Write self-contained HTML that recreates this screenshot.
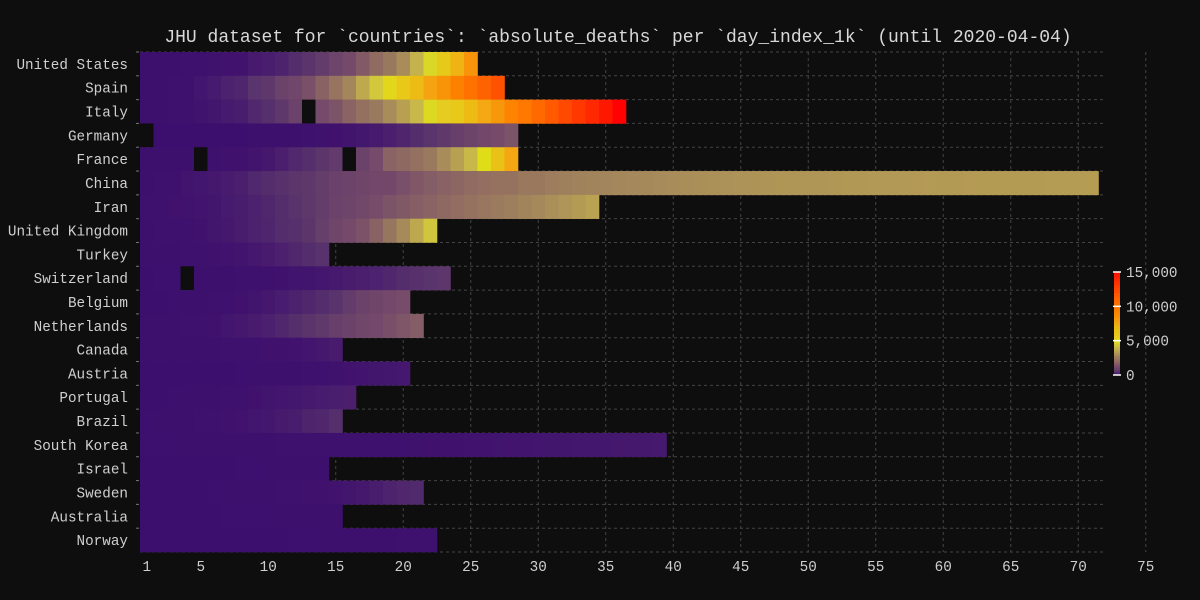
<!DOCTYPE html>
<html><head><meta charset="utf-8">
<style>
html,body{margin:0;padding:0;background:#0e0e0e;}
svg{display:block;font-family:"Liberation Mono","DejaVu Sans Mono",monospace;}
</style></head>
<body>
<svg id="chart" width="1200" height="600" xmlns="http://www.w3.org/2000/svg">
<rect width="1200" height="600" fill="#0e0e0e"/>
<text x="618" y="42" fill="#d8d8d8" font-size="18" text-anchor="middle">JHU dataset for `countries`: `absolute_deaths` per `day_index_1k` (until 2020-04-04)</text>
<g id="grid"></g><g id="cells"></g><g id="axes"></g><g id="cbar"></g>
</svg>
<script>
const countries = ["United States","Spain","Italy","Germany","France","China","Iran","United Kingdom","Turkey","Switzerland","Belgium","Netherlands","Canada","Austria","Portugal","Brazil","South Korea","Israel","Sweden","Australia","Norway"];
const usDeaths = [31,40,47,54,63,85,108,118,200,244,307,427,552,706,942,1209,1581,2026,2467,2978,3873,4757,5926,7087,8407];
const spainDeaths = [28,35,54,55,133,195,289,342,533,623,830,1043,1375,1772,2311,2808,3647,4365,5138,5982,6803,7716,8464,9387,10348,11198,11947];
const italyDeaths = [29,34,52,79,107,148,197,233,366,463,631,827,null,1266,1441,1809,2158,2503,2978,3405,4032,4825,5476,6077,6820,7503,8215,9134,10023,10779,11591,12428,13155,13915,14681,15362];
const germanyDeaths = [null,2,2,3,3,7,9,11,17,24,28,44,67,84,94,123,157,206,267,342,433,533,645,775,920,1107,1275,1444];
const franceDeaths = [19,19,33,48,null,79,91,91,127,175,264,372,450,562,674,null,830,1266,1809,1950,2158,2503,2978,3405,4032,5000,6500,7560];
const chinaDeaths = [42,56,82,131,133,171,213,259,361,425,490,562,632,717,804,904,1011,1111,1116,1368,1520,1662,1765,1863,2002,2114,2236,2236,2441,2443,2593,2663,2715,2744,2788,2835,2870,2912,2943,2981,3012,3042,3070,3097,3120,3136,3158,3169,3176,3189,3199,3213,3226,3237,3245,3249,3255,3261,3270,3277,3281,3287,3292,3295,3300,3304,3308,3309,3316,3322,3326];
const iranDeaths = [66,77,92,107,124,145,194,237,291,354,429,514,611,724,853,988,1135,1284,1433,1556,1685,1812,1934,2077,2234,2378,2517,2640,2757,2898,3036,3160,3294,3452];
const ukDeaths = [21,56,56,72,104,144,178,233,282,336,423,466,580,761,1021,1231,1411,1793,2357,2926,3611,4320];
const turkeyDeaths = [30,37,44,59,75,92,108,131,168,214,277,356,425,501];
const switzerlandDeaths = [11,13,14,null,27,28,41,54,56,80,98,120,122,153,191,231,264,300,359,433,488,536,591];
const belgiumDeaths = [5,10,14,21,37,67,75,88,122,178,220,289,353,431,513,705,828,1011,1143,1283];
const netherlandsDeaths = [20,24,43,58,76,106,136,179,213,276,356,434,546,639,771,864,1039,1173,1339,1487,1651];
const canadaDeaths = [20,21,25,26,30,38,54,61,65,89,101,109,139,179,218];
const austriaDeaths = [1,3,3,4,6,6,8,16,21,28,30,49,58,68,86,108,128,146,158,168];
const portugalDeaths = [6,12,14,23,33,43,60,76,100,119,140,160,187,209,246,266];
const brazilDeaths = [15,25,34,46,59,77,92,111,136,159,201,240,324,359,445];
const koreaDeaths = [13,13,16,17,28,28,35,35,42,44,50,53,54,60,66,66,72,75,75,81,84,91,94,102,111,111,120,126,131,139,144,152,158,162,165,169,174,177,183];
const israelDeaths = [1,1,3,5,8,12,12,15,16,17,25,36,40,44];
const swedenDeaths = [3,6,7,10,11,16,20,21,25,36,62,77,105,105,110,146,180,239,308,358,373];
const australiaDeaths = [7,7,8,8,8,11,13,13,14,16,18,19,23,28,30];
const norwayDeaths = [3,3,3,3,3,4,6,7,7,10,12,14,14,19,23,25,32,39,44,50,59,62];
const series = [usDeaths,spainDeaths,italyDeaths,germanyDeaths,franceDeaths,chinaDeaths,iranDeaths,ukDeaths,turkeyDeaths,switzerlandDeaths,belgiumDeaths,netherlandsDeaths,canadaDeaths,austriaDeaths,portugalDeaths,brazilDeaths,koreaDeaths,israelDeaths,swedenDeaths,australiaDeaths,norwayDeaths];
const xTicks = [1,5,10,15,20,25,30,35,40,45,50,55,60,65,70,75];
const cbarTicks = [0,5000,10000,15000];
const cbarLabels = ["0","5,000","10,000","15,000"];
const cmapVals = [0,100,250,460,830,1266,1441,1809,2158,2503,2978,3405,4032,4600,5000,5476,6077,6820,7503,9134,10023,11591,13155,14681,15400];
const cmapCols = ["#3c0f6e","#40126e","#4a1e6e","#56306c","#6a426a","#764a6a","#7c5468","#8a6464","#947060","#9a7a5e","#a88c5a","#b8a052","#c8b84a","#d8d430","#e0dc18","#e6cc20","#e8c818","#ecbc14","#f4a814","#fc8400","#ff7800","#ff5a00","#ff3800","#ff1800","#ff0000"];

const NS="http://www.w3.org/2000/svg";
const X0=140, CW=13.5, Y0=52, RH=(552-52)/21;
const xC = d => X0 + (d-1)*CW + CW/2;
const xL = d => X0 + (d-1)*CW;
const yT = i => Y0 + i*RH;
function hex(h){return [1,3,5].map(k=>parseInt(h.substr(k,2),16));}
function color(v){
  if(v<=cmapVals[0]) return cmapCols[0];
  for(let i=1;i<cmapVals.length;i++){
    if(v<=cmapVals[i]){
      const t=(v-cmapVals[i-1])/(cmapVals[i]-cmapVals[i-1]);
      const a=hex(cmapCols[i-1]), b=hex(cmapCols[i]);
      return "rgb("+a.map((c,k)=>Math.round(c+(b[k]-c)*t)).join(",")+")";
    }
  }
  return cmapCols[cmapCols.length-1];
}
function mk(tag,attrs,parent){const e=document.createElementNS(NS,tag);for(const k in attrs)e.setAttribute(k,attrs[k]);parent.appendChild(e);return e;}

const grid=document.getElementById('grid');
for(const t of xTicks){
  if(t===1) continue;
  const l=mk('line',{x1:xC(t),x2:xC(t),y1:Y0,y2:552,stroke:'#444','stroke-dasharray':'3,3'},grid);
  
  
}
for(let i=0;i<=countries.length;i++){
  const l=mk('line',{x1:X0,x2:1105,y1:yT(i),y2:yT(i),stroke:'#444','stroke-dasharray':'3,3'},grid);
  
  
}

const cells=document.getElementById('cells');
series.forEach((arr,i)=>{
  arr.forEach((v,j)=>{
    const d=j+1;
    if(v===null){
      const r=mk('rect',{x:xL(d),y:yT(i),width:CW,height:RH,fill:'#0e0e0e'},cells);
      
      
      return;
    }
    const r=mk('rect',{x:xL(d),y:yT(i),width:CW+0.3,height:RH+0.3,fill:color(v)},cells);
    
    
  });
});

const axes=document.getElementById('axes');
countries.forEach((c,i)=>{
  const t=mk('text',{x:128,y:yT(i)+RH/2+5,fill:'#cfcfcf','font-size':'14.3','text-anchor':'end'},axes);
  t.textContent=c;
  
  
  const tk=mk('line',{x1:136,x2:139,y1:yT(i),y2:yT(i),stroke:'#777'},axes);
  
  
});
xTicks.forEach(tv=>{
  const t=mk('text',{x:xC(tv),y:571,fill:'#cfcfcf','font-size':'14.3','text-anchor':'middle'},axes);
  t.textContent=String(tv);
  
  
});

const cb=document.getElementById('cbar');
const CB_TOP=272, CB_BOT=375, CB_MAX=15000;
const cbY = v => CB_BOT - (v/CB_MAX)*(CB_BOT-CB_TOP);
for(let k=0;k<60;k++){
  const v0=k*CB_MAX/60, v1=(k+1)*CB_MAX/60;
  const r=mk('rect',{x:1114,y:cbY(v1),width:6,height:cbY(v0)-cbY(v1)+0.3,fill:color((v0+v1)/2)},cb);
  
  
}
cbarTicks.forEach((v,k)=>{
  const l=mk('line',{x1:1113,x2:1121,y1:cbY(v),y2:cbY(v),stroke:'#fff','stroke-width':1.5},cb);
  
  
  const t=mk('text',{x:1126,y:cbY(v)+5,fill:'#cfcfcf','font-size':'14.3'},cb);
  t.textContent=cbarLabels[k];
  
  
});
</script>
</body></html>
